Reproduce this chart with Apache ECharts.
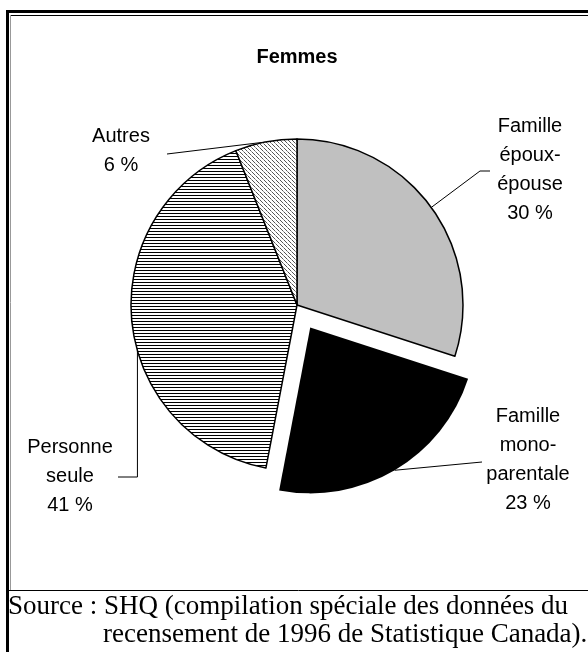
<!DOCTYPE html>
<html>
<head>
<meta charset="utf-8">
<script src="https://cdn.jsdelivr.net/npm/echarts@6/dist/echarts.min.js"></script>
<style>
html,body{margin:0;padding:0;background:#fff;}
#chart{width:588px;height:652px;}
</style>
</head>
<body>
<div id="chart"></div>
<script>
// ---- data ----
const categories = ['Famille\népoux-\népouse', 'Famille\nmono-\nparentale', 'Personne\nseule', 'Autres'];
const values = [30, 23, 41, 6];
const explodedIndex = 1;
const titleText = 'Femmes';
const sourceLines = ['Source : SHQ (compilation spéciale des données du', 'recensement de 1996 de Statistique Canada).'];

// ---- layout / style ----
const CX = 297, CY = 305, R = 166, EXPLODE = 26;
const labelPos = [[530, 170], [528, 460], [70, 476], [121, 151]];

function makePattern(w, h, draw) {
  const c = document.createElement('canvas');
  c.width = w; c.height = h;
  const g = c.getContext('2d');
  g.fillStyle = '#fff'; g.fillRect(0, 0, w, h);
  draw(g);
  return { image: c, repeat: 'repeat' };
}
const stripes = makePattern(4, 3, g => { g.fillStyle = '#000'; g.fillRect(0, 0, 4, 1); });
const dots = makePattern(4, 4, g => {
  g.fillStyle = '#555';
  g.fillRect(0, 0, 1, 1); g.fillRect(1, 1, 1, 1);
  g.fillRect(2, 2, 1, 1);
  g.fillStyle = '#999';
  g.fillRect(3, 3, 1, 1);
});
const fills = ['#c0c0c0', '#000000', stripes, dots];

const total = values.reduce((a, b) => a + b, 0);
function midAngle(i) {
  let s = 0;
  for (let k = 0; k < i; k++) s += values[k];
  return (s + values[i] / 2) / total * 2 * Math.PI;
}
const exA = midAngle(explodedIndex);
const CX2 = CX + EXPLODE * Math.sin(exA), CY2 = CY - EXPLODE * Math.cos(exA);
function edgePoint(angle, cx, cy) {
  return [cx + R * Math.sin(angle), cy - R * Math.cos(angle)];
}

const chart = echarts.init(document.getElementById('chart'), null, { renderer: 'canvas' });
const font = 'Liberation Sans, Arial, sans-serif';

function buildData(showExploded) {
  return categories.map((c, i) => {
    const visible = (i === explodedIndex) === showExploded;
    return {
      name: c,
      value: values[i],
      itemStyle: visible
        ? { color: fills[i], borderColor: '#000', borderWidth: i === explodedIndex ? 0 : 1.5 }
        : { color: 'rgba(0,0,0,0)', borderWidth: 0 },
      label: { show: visible },
      labelLine: { show: visible }
    };
  });
}

function layoutFn(params) {
  const i = params.dataIndex;
  const a = midAngle(i);
  let pts;
  if (i === 0) {
    const e = edgePoint(a, CX, CY);
    pts = [e, [480, 171], [490, 171]];
  } else if (i === 1) {
    const e = edgePoint(a, CX2, CY2);
    pts = [e, [482, 462]];
  } else if (i === 2) {
    const e = edgePoint(254 / 180 * Math.PI, CX, CY);
    pts = [e, [e[0], 477], [118, 477]];
  } else {
    const e = edgePoint(a, CX, CY);
    pts = [e, [167, 154]];
  }
  return {
    x: labelPos[i][0],
    y: labelPos[i][1],
    align: 'center',
    verticalAlign: 'middle',
    labelLinePoints: pts
  };
}

const common = {
  type: 'pie',
  radius: R,
  startAngle: 90,
  clockwise: true,
  selectedMode: false,
  label: {
    position: 'outside',
    alignTo: 'none',
    overflow: 'none',
    formatter: p => p.name + '\n' + p.value + ' %',
    fontFamily: font,
    fontSize: 20,
    lineHeight: 29,
    color: '#000',
    align: 'center'
  },
  labelLine: { lineStyle: { color: '#000', width: 1 }, smooth: false },
  labelLayout: layoutFn,
  emphasis: { disabled: true }
};

chart.setOption({
  animation: false,
  backgroundColor: '#fff',
  series: [
    Object.assign({}, common, { center: [CX, CY], data: buildData(false) }),
    Object.assign({}, common, { center: [CX2, CY2], data: buildData(true) })
  ],
  graphic: [
    { type: 'line', shape: { x1: 7.5, y1: 10, x2: 7.5, y2: 652 }, style: { stroke: '#000', lineWidth: 3 } },
    { type: 'line', shape: { x1: 6, y1: 11.5, x2: 588, y2: 11.5 }, style: { stroke: '#000', lineWidth: 3 } },
    { type: 'line', shape: { x1: 10, y1: 15.5, x2: 588, y2: 15.5 }, style: { stroke: '#000', lineWidth: 1 } },
    { type: 'line', shape: { x1: 10.5, y1: 15, x2: 10.5, y2: 590 }, style: { stroke: '#999', lineWidth: 1 } },
    { type: 'line', shape: { x1: 9, y1: 590.5, x2: 588, y2: 590.5 }, style: { stroke: '#000', lineWidth: 1 } },
    { type: 'text', x: 297, y: 57, style: { text: titleText, font: 'bold 20px ' + font, fill: '#000', align: 'center', verticalAlign: 'middle' } },
    { type: 'text', x: 8, y: 607, style: { text: sourceLines[0], font: '27px Liberation Serif, Times New Roman, serif', fill: '#000', align: 'left', verticalAlign: 'middle' } },
    { type: 'text', x: 103, y: 635, style: { text: sourceLines[1], font: '27px Liberation Serif, Times New Roman, serif', fill: '#000', align: 'left', verticalAlign: 'middle' } }
  ]
});
</script>
</body>
</html>
